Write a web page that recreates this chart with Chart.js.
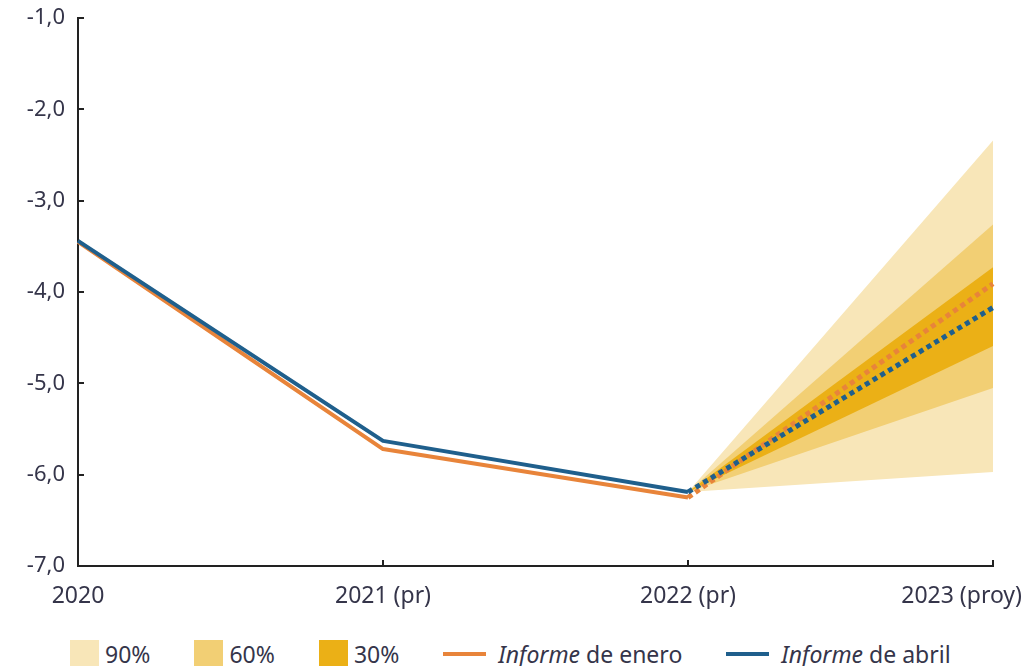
<!DOCTYPE html>
<html lang="es">
<head>
<meta charset="utf-8">
<title>Saldo presupuestario: proyección 2023</title>
<script src="https://cdn.jsdelivr.net/npm/chart.js@4.4.1/dist/chart.umd.min.js"></script>
<style>
  html, body { margin: 0; padding: 0; background: #ffffff; overflow: hidden; }
  #wrap { position: relative; width: 1026px; height: 666px; }
  #plot { position: absolute; left: 0; top: 0; width: 1026px; height: 630px; }
  #legend {
    position: absolute; left: 70px; top: 640px; height: 28px;
    display: flex; align-items: center; gap: 44px;
    font-family: "Noto Sans", "Liberation Sans", sans-serif; font-size: 23px; color: #35354a;
    white-space: nowrap;
  }
  .item { display: flex; align-items: center; gap: 6px; }
  .box { width: 29px; height: 28px; }
  .line { width: 43px; height: 4px; margin-right: 6px; }
  .item i { font-style: italic; }
</style>
</head>
<body>
<div id="wrap">
  <div id="plot"><canvas id="chart"></canvas></div>
  <div id="legend"></div>
</div>
<script>
// Categorías del eje horizontal
const years = ['2020', '2021 (pr)', '2022 (pr)', '2023 (proy)'];

// Series de los dos informes (% del PIB)
const informeEnero = [-3.45, -5.72, -6.25, -3.91];
const informeAbril = [-3.44, -5.63, -6.19, -4.17];

// Bandas de probabilidad de la proyección (límites superior e inferior)
const banda90Sup = [null, null, -6.19, -2.34];
const banda90Inf = [null, null, -6.19, -5.97];
const banda60Sup = [null, null, -6.19, -3.26];
const banda60Inf = [null, null, -6.19, -5.05];
const banda30Sup = [null, null, -6.19, -3.73];
const banda30Inf = [null, null, -6.19, -4.59];

// Rango del eje vertical
const yMin = -7;
const yMax = -1;
const yStep = 1;

const colores = {
  b90: '#f8e6b8',
  b60: '#f2cf74',
  b30: '#ebb016',
  enero: '#e8843a',
  abril: '#1f5f8c',
  eje: '#222222',
  texto: '#35354a'
};

const FONT = '"Noto Sans", "Liberation Sans", sans-serif';

// Línea continua para los datos observados y punteada para la proyección
const proyectado = ctx => ctx.p1DataIndex === years.length - 1;
function serie(label, data, color, order) {
  return {
    label, data, order,
    borderColor: color,
    backgroundColor: color,
    borderWidth: 4,
    pointRadius: 0,
    tension: 0,
    fill: false,
    borderJoinStyle: 'round',
    segment: {
      borderDash: ctx => proyectado(ctx) ? [5, 4] : undefined,
      borderWidth: ctx => proyectado(ctx) ? 5 : 4
    }
  };
}
function banda(label, data, color, order, fillTo) {
  return {
    label, data, order,
    borderWidth: 0,
    borderColor: 'rgba(0,0,0,0)',
    backgroundColor: color,
    pointRadius: 0,
    tension: 0,
    fill: fillTo === null ? false : { target: fillTo }
  };
}

const datasets = [
  banda('90%', banda90Sup, colores.b90, 10, 1),
  banda('90% inf', banda90Inf, colores.b90, 11, null),
  banda('60%', banda60Sup, colores.b60, 8, 3),
  banda('60% inf', banda60Inf, colores.b60, 9, null),
  banda('30%', banda30Sup, colores.b30, 6, 5),
  banda('30% inf', banda30Inf, colores.b30, 7, null),
  serie('Informe de enero', informeEnero, colores.enero, 2),
  serie('Informe de abril', informeAbril, colores.abril, 1)
];

// Mantiene la última etiqueta del eje X dentro del lienzo
const ajusteEtiquetas = {
  id: 'ajusteEtiquetas',
  beforeDraw(chart) {
    const xs = chart.scales.x;
    const items = xs.getLabelItems();
    if (!items.length) return;
    const last = items[items.length - 1];
    const ctx = chart.ctx;
    ctx.save();
    ctx.font = last.font.string;
    const w = ctx.measureText(last.label).width;
    ctx.restore();
    const maxX = chart.width - 4;
    if (last.options.translation[0] + w / 2 > maxX) {
      last.options.translation[0] = maxX - w / 2;
    }
  }
};

new Chart(document.getElementById('chart'), {
  type: 'line',
  data: { labels: years, datasets },
  options: {
    responsive: true,
    maintainAspectRatio: false,
    animation: false,
    layout: { padding: { top: 18, right: 33, left: 0, bottom: 0 } },
    plugins: {
      legend: { display: false },
      tooltip: { enabled: false },
      filler: { propagate: false }
    },
    scales: {
      x: {
        type: 'category',
        offset: false,
        grid: {
          display: true, drawOnChartArea: false, drawTicks: true,
          tickLength: -6, color: colores.eje, lineWidth: 2
        },
        border: { display: true, color: colores.eje, width: 2 },
        ticks: {
          padding: 23, color: colores.texto, maxRotation: 0, autoSkip: false,
          font: { family: FONT, size: 23 }
        },
        afterFit(scale) {
          scale.height = 64;
          scale.paddingLeft = 0;
          scale.paddingRight = 0;
        }
      },
      y: {
        min: yMin, max: yMax,
        grid: {
          display: true, drawOnChartArea: false, drawTicks: true,
          tickLength: -6, color: colores.eje, lineWidth: 2
        },
        border: { display: true, color: colores.eje, width: 2 },
        ticks: {
          stepSize: yStep, padding: 19, color: colores.texto,
          font: { family: FONT, size: 22 },
          callback: v => v.toFixed(1).replace('.', ',')
        },
        afterFit(scale) {
          scale.width = 78;
          scale.paddingTop = 0;
          scale.paddingBottom = 0;
        }
      }
    }
  },
  plugins: [ajusteEtiquetas]
});

// Leyenda
const leyenda = [
  { tipo: 'box', color: colores.b90, texto: '90%' },
  { tipo: 'box', color: colores.b60, texto: '60%' },
  { tipo: 'box', color: colores.b30, texto: '30%' },
  { tipo: 'line', color: colores.enero, cursiva: 'Informe', texto: ' de enero' },
  { tipo: 'line', color: colores.abril, cursiva: 'Informe', texto: ' de abril' }
];
const cont = document.getElementById('legend');
leyenda.forEach(it => {
  const el = document.createElement('div');
  el.className = 'item';
  const m = document.createElement('span');
  m.className = it.tipo;
  m.style.background = it.color;
  el.appendChild(m);
  const t = document.createElement('span');
  if (it.cursiva) {
    const i = document.createElement('i');
    i.textContent = it.cursiva;
    t.appendChild(i);
    t.appendChild(document.createTextNode(it.texto));
  } else {
    t.textContent = it.texto;
  }
  el.appendChild(t);
  cont.appendChild(el);
});
</script>
</body>
</html>
